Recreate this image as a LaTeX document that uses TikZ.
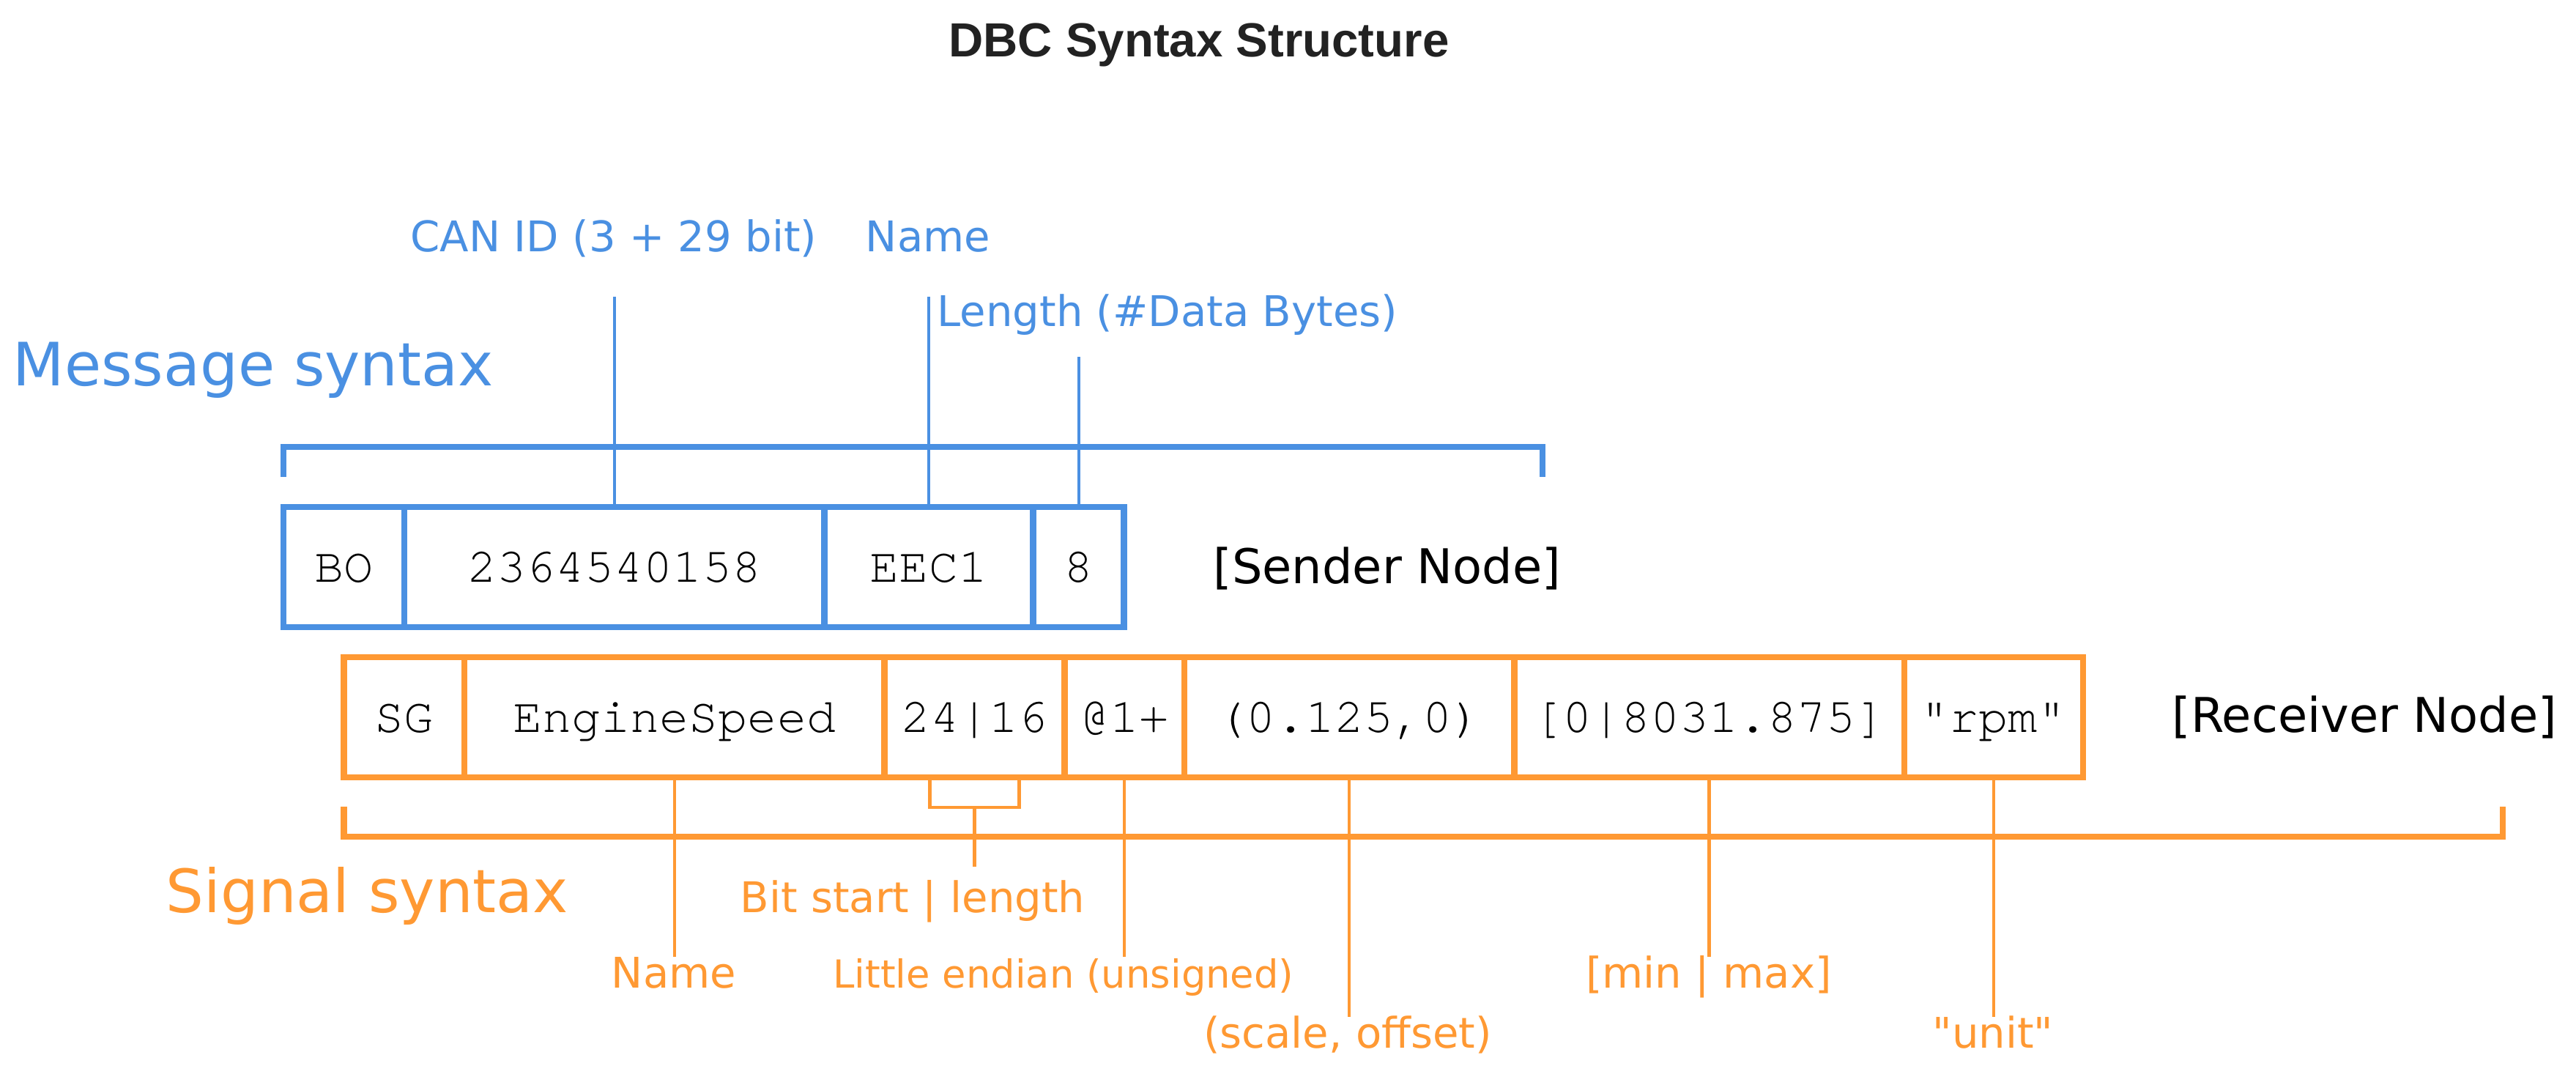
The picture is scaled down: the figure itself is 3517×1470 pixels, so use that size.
\documentclass[tikz,border=0pt]{standalone}
\usepackage{fontspec}
\setmainfont{DejaVu Sans}[Ligatures=TeXOff]
\newfontfamily\cellfont{texgyrecursor-regular.otf}
\newfontfamily\titlefont{Liberation Sans}
\usetikzlibrary{positioning}

\definecolor{msgblue}{HTML}{4A90E2}
\definecolor{sigorange}{HTML}{FF9933}
\definecolor{titlegray}{HTML}{222222}

\begin{document}
\begin{tikzpicture}[
  x=0.01cm, y=-0.01cm,
  cell/.style={rectangle, draw, line width=2.4pt, inner sep=0pt, outer sep=0pt,
    minimum height=1.64cm, text height=0.6cm, text depth=0.2cm,
    font=\cellfont\fontsize{19}{22}\selectfont},
  msgcell/.style={cell, draw=msgblue},
  sigcell/.style={cell, draw=sigorange},
  spanline/.style={line width=2.4pt},
  ptr/.style={line width=1.2pt},
  note/.style={inner sep=0pt, anchor=base, font=\fontsize{16.4}{19}\selectfont},
  heading/.style={inner sep=0pt, anchor=base west, font=\fontsize{23.2}{27}\selectfont},
  nodename/.style={inner sep=0pt, anchor=base west, font=\fontsize{18.6}{22}\selectfont}
]
\path[use as bounding box, fill=white] (0,0) rectangle (3517,1470);

\node[font=\titlefont\bfseries\fontsize{18.6}{22}\selectfont, text=titlegray, inner sep=0pt, anchor=base] (title) at (1637,78) {DBC Syntax Structure};

\node[heading, text=msgblue] (msgsyn) at (17,527) {Message syntax};
\node[heading, text=sigorange] (sigsyn) at (226,1245) {Signal syntax};

\node[msgcell, minimum width=1.65cm, anchor=north west] (bo) at (387,692) {BO};
\node[msgcell, minimum width=5.73cm, right=0pt of bo] (canid) {2364540158};
\node[msgcell, minimum width=2.85cm, right=0pt of canid] (mname) {EEC1};
\node[msgcell, minimum width=1.24cm, right=0pt of mname] (dlc) {8};
\node[nodename] (sender) at (1656,796) {[Sender Node]};

\node[sigcell, minimum width=1.645cm, anchor=north west] (sg) at (469.5,897) {SG};
\node[sigcell, minimum width=5.73cm, right=0pt of sg] (sname) {EngineSpeed};
\node[sigcell, minimum width=2.46cm, right=0pt of sname] (bits) {24|16};
\node[sigcell, minimum width=1.635cm, right=0pt of bits] (order) {@1+};
\node[sigcell, minimum width=4.5cm, right=0pt of order] (factor) {(0.125,0)};
\node[sigcell, minimum width=5.32cm, right=0pt of factor] (range) {[0|8031.875]};
\node[sigcell, minimum width=2.44cm, right=0pt of range] (unit) {"rpm"};
\node[nodename] (receiver) at (2965,999) {[Receiver Node]};

\coordinate (msgend) at (2106,610);
\draw[spanline, msgblue] (bo.north west |- 0,651) -- (bo.north west |- msgend) -- (msgend) -- (2106,651);
\coordinate (sigend) at (3417,1142);
\draw[spanline, sigorange] (sg.south west |- 0,1101) -- (sg.south west |- sigend) -- (sigend) -- (3417,1101);

\node[note, text=msgblue] (idlbl) at (838,344) {CAN ID (3 + 29 bit)};
\node[note, text=msgblue] (mnamelbl) at (1267,344) {Name};
\node[note, text=msgblue, anchor=base west] (dlclbl) at (1279,446) {Length (\#Data Bytes)};
\coordinate (idtip) at (canid.north |- 0,405);
\coordinate (mnametip) at (mname.north |- 0,405);
\coordinate (dlctip) at (dlc.north |- 0,487);
\draw[ptr, msgblue] (canid.north) -- (idtip);
\draw[ptr, msgblue] (mname.north) -- (mnametip);
\draw[ptr, msgblue] (dlc.north) -- (dlctip);

\node[note, text=sigorange] (snamelbl) at (920,1348) {Name};
\node[note, text=sigorange] (bitslbl) at (1246,1245) {Bit start | length};
\node[note, text=sigorange, font=\fontsize{15}{18}\selectfont] (orderlbl) at (1452,1348) {Little endian (unsigned)};
\node[note, text=sigorange] (factorlbl) at (1840,1430) {(scale, offset)};
\node[note, text=sigorange] (rangelbl) at (2333,1348) {[min | max]};
\node[note, text=sigorange] (unitlbl) at (2721,1430) {"unit"};
\coordinate (snametip) at (sname.south |- 0,1306);
\coordinate (bitstip) at (bits.south |- 0,1183);
\coordinate (ordertip) at (order.south |- 0,1306);
\coordinate (factortip) at (factor.south |- 0,1388);
\coordinate (rangetip) at (range.south |- 0,1306);
\coordinate (unittip) at (unit.south |- 0,1388);
\draw[ptr, sigorange] (sname.south) -- (snametip);
\draw[ptr, sigorange] ([xshift=-0.61cm]bits.south) -- ++(0,41) -- ++(122,0) -- ++(0,-41);
\draw[ptr, sigorange] ([yshift=-0.41cm]bits.south) -- (bitstip);
\draw[ptr, sigorange] (order.south) -- (ordertip);
\draw[ptr, sigorange] (factor.south) -- (factortip);
\draw[ptr, sigorange] (range.south) -- (rangetip);
\draw[ptr, sigorange] (unit.south) -- (unittip);
\end{tikzpicture}
\end{document}
